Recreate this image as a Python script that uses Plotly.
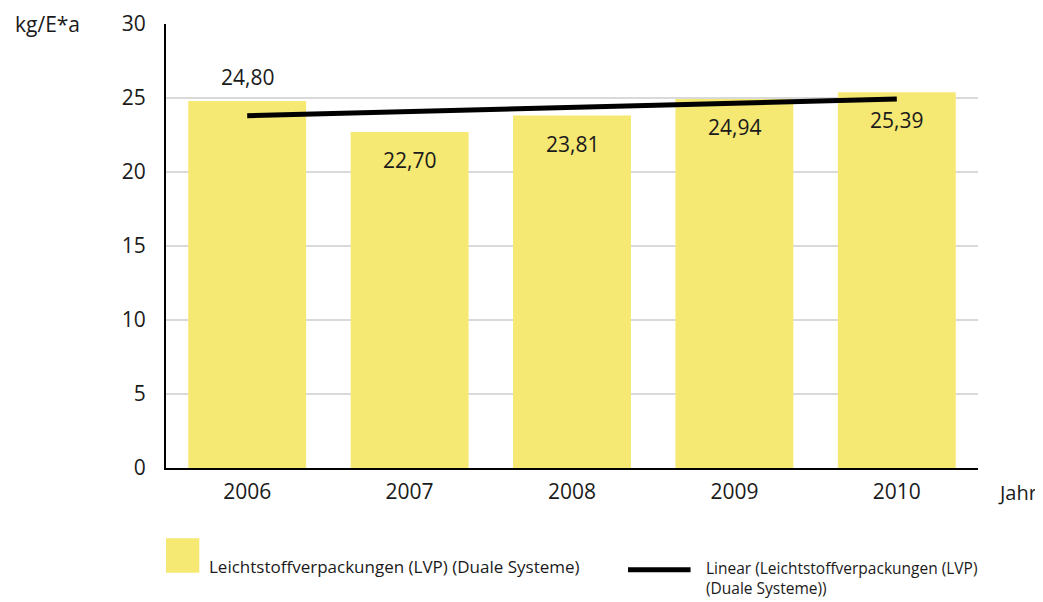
import plotly.graph_objects as go

years = ["2006", "2007", "2008", "2009", "2010"]
values = [24.80, 22.70, 23.81, 24.94, 25.39]
value_labels = ["24,80", "22,70", "23,81", "24,94", "25,39"]
label_outside = [True, False, False, False, False]
trend_values = [23.80, 24.93]  # linear trend at first and last year
y_ticks = [0, 5, 10, 15, 20, 25, 30]

bar_name = "Leichtstoffverpackungen (LVP) (Duale Systeme)"
trend_name = "Linear (Leichtstoffverpackungen (LVP)<br>(Duale Systeme))"

FONT = "Open Sans"
BAR_COLOR = "#F5E873"
TXT = "#1a1a1a"

fig = go.Figure()
fig.add_trace(go.Bar(x=years, y=values, marker_color=BAR_COLOR, marker_line_width=0,
                     showlegend=False, hoverinfo="skip"))
fig.add_trace(go.Scatter(x=[years[0], years[-1]], y=trend_values, mode="lines",
                         line=dict(color="black", width=5), showlegend=False,
                         hoverinfo="skip"))

for i, (v, lab, out) in enumerate(zip(values, value_labels, label_outside)):
    fig.add_annotation(x=i, y=v, text=lab, showarrow=False,
                       yshift=24 if out else -28,
                       font=dict(family=FONT, size=21, color=TXT))

# axis titles
fig.add_annotation(xref="paper", yref="paper", x=-0.189, y=1.0, text="kg/E*a",
                   showarrow=False, xanchor="left", yanchor="middle",
                   font=dict(family=FONT, size=21, color=TXT))
fig.add_annotation(xref="paper", yref="paper", x=1.022, y=-0.055, text="Jahr",
                   showarrow=False, xanchor="left", yanchor="middle",
                   font=dict(family=FONT, size=20, color=TXT))

# manual legend
fig.add_shape(type="rect", xref="paper", yref="paper", x0=0.0, x1=0.041,
              y0=-0.236, y1=-0.158, fillcolor=BAR_COLOR, line_width=0)
fig.add_annotation(xref="paper", yref="paper", x=0.051, y=-0.222, text=bar_name,
                   showarrow=False, xanchor="left", yanchor="middle",
                   font=dict(family=FONT, size=17, color=TXT))
fig.add_shape(type="line", xref="paper", yref="paper", x0=0.569, x1=0.646,
              y0=-0.229, y1=-0.229, line=dict(color="black", width=5))
fig.add_annotation(xref="paper", yref="paper", x=0.662, y=-0.247, text=trend_name,
                   showarrow=False, xanchor="left", yanchor="middle", align="left",
                   font=dict(family=FONT, size=15.5, color=TXT))

fig.update_layout(
    width=1043, height=602,
    margin=dict(l=158, r=73, t=16, b=142),
    paper_bgcolor="white", plot_bgcolor="white",
    bargap=0.274,
    font=dict(family=FONT, color=TXT),
    xaxis=dict(type="category", range=[-0.5, 4.5], showline=True, linecolor="black",
               linewidth=2, ticks="", tickfont=dict(family=FONT, size=21, color=TXT),
               showgrid=False, automargin=False, ticklabelstandoff=4),
    yaxis=dict(range=[0, 30], tickvals=y_ticks, showline=True, linecolor="black",
               linewidth=2, ticks="", showgrid=True, gridcolor="#d9d9d9", gridwidth=1.5,
               tickfont=dict(family=FONT, size=21, color=TXT), ticklabelstandoff=14,
               zeroline=False, automargin=False),
)

fig.write_html("out.html")
